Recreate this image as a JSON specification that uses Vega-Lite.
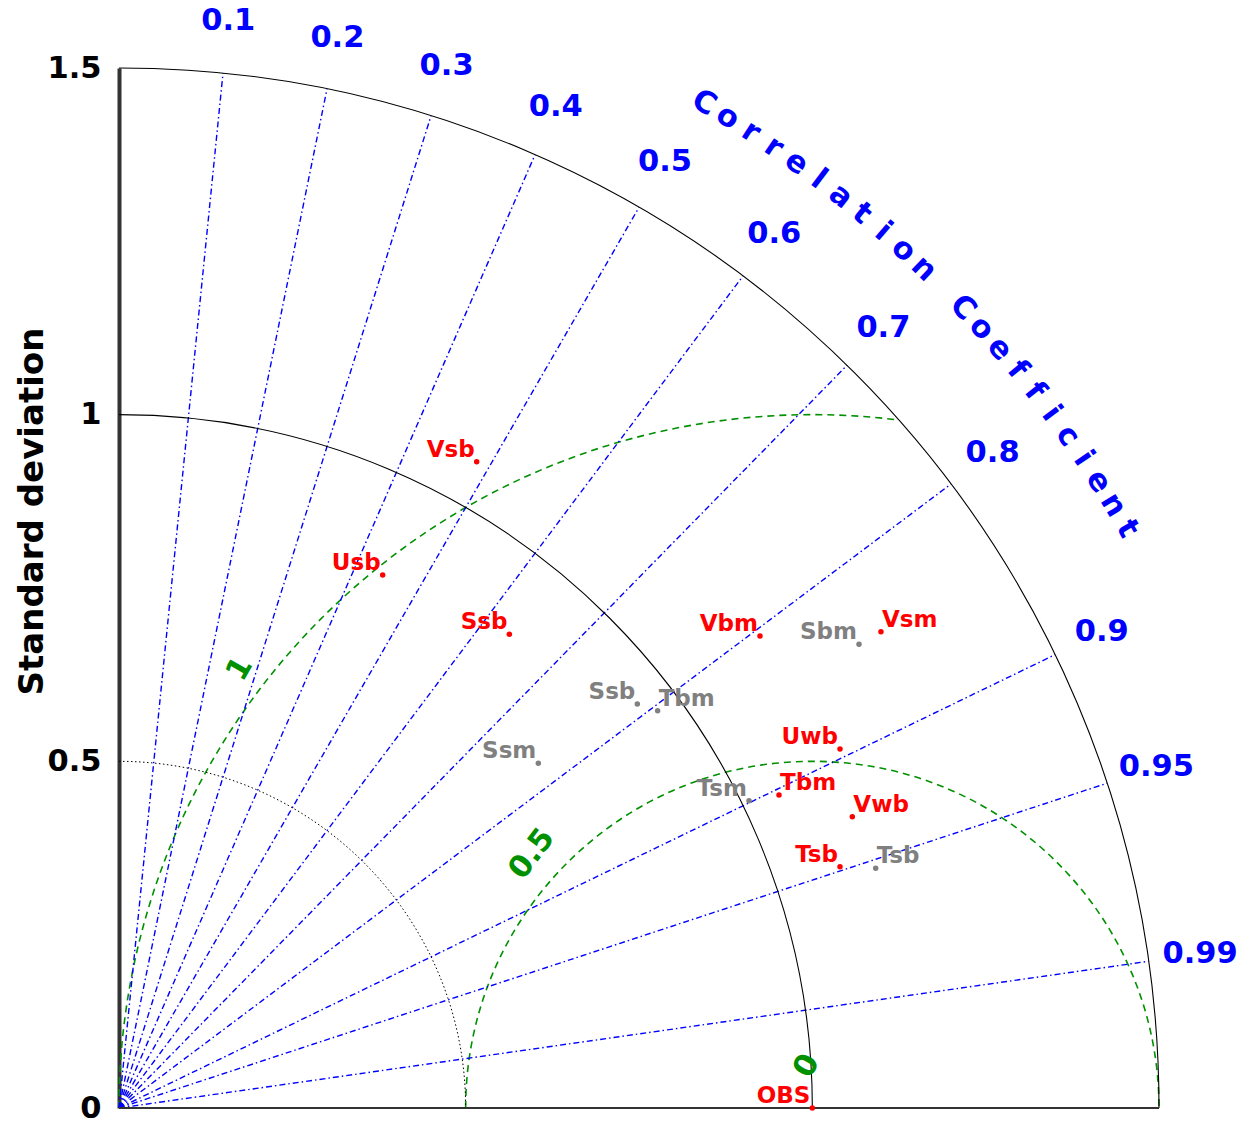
{
  "$schema": "https://vega.github.io/schema/vega-lite/v6.json",
  "width": 1040,
  "height": 1040,
  "autosize": "none",
  "padding": {"left": 119, "top": 68, "right": 91, "bottom": 14},
  "background": "white",
  "datasets": {
    "models": [
      {"name": "Vsb", "series": "A", "x": 0.5159, "y": 0.9322},
      {"name": "Usb", "series": "A", "x": 0.3803, "y": 0.7688},
      {"name": "Ssb", "series": "A", "x": 0.5630, "y": 0.6832},
      {"name": "Vbm", "series": "A", "x": 0.9245, "y": 0.6808},
      {"name": "Vsm", "series": "A", "x": 1.0990, "y": 0.6870},
      {"name": "Uwb", "series": "A", "x": 1.0399, "y": 0.5178},
      {"name": "Tbm", "series": "A", "x": 0.9519, "y": 0.4514},
      {"name": "Vwb", "series": "A", "x": 1.0577, "y": 0.4202},
      {"name": "Tsb", "series": "A", "x": 1.0399, "y": 0.3481},
      {"name": "OBS", "series": "A", "x": 1.0, "y": 0.0},
      {"name": "Sbm", "series": "B", "x": 1.0673, "y": 0.6688},
      {"name": "Ssb", "series": "B", "x": 0.7476, "y": 0.5827},
      {"name": "Tbm", "series": "B", "x": 0.7769, "y": 0.5731},
      {"name": "Ssm", "series": "B", "x": 0.6048, "y": 0.4971},
      {"name": "Tsm", "series": "B", "x": 0.9087, "y": 0.4433},
      {"name": "Tsb", "series": "B", "x": 1.0914, "y": 0.3457}
    ],
    "corr": [
      {"c": "0.1", "x0": 0, "y0": 0, "x1": 0.15, "y1": 1.4925, "lx": 0.1575, "ly": 1.5671},
      {"c": "0.2", "x0": 0, "y0": 0, "x1": 0.3, "y1": 1.4697, "lx": 0.315, "ly": 1.5432},
      {"c": "0.3", "x0": 0, "y0": 0, "x1": 0.45, "y1": 1.4309, "lx": 0.4725, "ly": 1.5025},
      {"c": "0.4", "x0": 0, "y0": 0, "x1": 0.6, "y1": 1.3748, "lx": 0.63, "ly": 1.4435},
      {"c": "0.5", "x0": 0, "y0": 0, "x1": 0.75, "y1": 1.299, "lx": 0.7875, "ly": 1.364},
      {"c": "0.6", "x0": 0, "y0": 0, "x1": 0.9, "y1": 1.2, "lx": 0.945, "ly": 1.26},
      {"c": "0.7", "x0": 0, "y0": 0, "x1": 1.05, "y1": 1.0712, "lx": 1.1025, "ly": 1.1248},
      {"c": "0.8", "x0": 0, "y0": 0, "x1": 1.2, "y1": 0.9, "lx": 1.26, "ly": 0.945},
      {"c": "0.9", "x0": 0, "y0": 0, "x1": 1.35, "y1": 0.6538, "lx": 1.4175, "ly": 0.6865},
      {"c": "0.95", "x0": 0, "y0": 0, "x1": 1.425, "y1": 0.4684, "lx": 1.4963, "ly": 0.4918},
      {"c": "0.99", "x0": 0, "y0": 0, "x1": 1.485, "y1": 0.2116, "lx": 1.5593, "ly": 0.2222}
    ],
    "letters": [
      {"ch": "C", "x": 0.8436, "y": 1.4494, "rot": 30.2},
      {"ch": "o", "x": 0.8777, "y": 1.429, "rot": 31.56},
      {"ch": "r", "x": 0.9114, "y": 1.4077, "rot": 32.92},
      {"ch": "r", "x": 0.9445, "y": 1.3857, "rot": 34.28},
      {"ch": "e", "x": 0.9771, "y": 1.3629, "rot": 35.64},
      {"ch": "l", "x": 1.0093, "y": 1.3393, "rot": 37.0},
      {"ch": "a", "x": 1.0407, "y": 1.3149, "rot": 38.36},
      {"ch": "t", "x": 1.0716, "y": 1.2899, "rot": 39.72},
      {"ch": "i", "x": 1.102, "y": 1.2641, "rot": 41.08},
      {"ch": "o", "x": 1.1316, "y": 1.2375, "rot": 42.44},
      {"ch": "n", "x": 1.1607, "y": 1.2104, "rot": 43.8},
      {"ch": "C", "x": 1.2168, "y": 1.1539, "rot": 46.52},
      {"ch": "o", "x": 1.2439, "y": 1.1247, "rot": 47.88},
      {"ch": "e", "x": 1.2702, "y": 1.0949, "rot": 49.24},
      {"ch": "f", "x": 1.2958, "y": 1.0644, "rot": 50.6},
      {"ch": "f", "x": 1.3208, "y": 1.0334, "rot": 51.96},
      {"ch": "i", "x": 1.3449, "y": 1.0017, "rot": 53.32},
      {"ch": "c", "x": 1.3683, "y": 0.9695, "rot": 54.68},
      {"ch": "i", "x": 1.391, "y": 0.9368, "rot": 56.04},
      {"ch": "e", "x": 1.4127, "y": 0.9035, "rot": 57.4},
      {"ch": "n", "x": 1.4338, "y": 0.8697, "rot": 58.76},
      {"ch": "t", "x": 1.4541, "y": 0.8355, "rot": 60.12}
    ]
  },
  "config": {
    "view": {"stroke": null},
    "axisY": {
      "domainColor": "#333333",
      "domainWidth": 4,
      "ticks": false,
      "grid": false,
      "labelFont": "DejaVu Sans",
      "labelFontSize": 30.5,
      "labelFontWeight": "bold",
      "labelColor": "black",
      "labelPadding": 18,
      "labelFlush": false,
      "labelOverlap": false,
      "titleFont": "DejaVu Sans",
      "titleFontSize": 34,
      "titleFontWeight": "bold",
      "titleColor": "black",
      "titleX": -77,
      "titleY": 443,
      "titleAngle": 270,
      "titleAlign": "center",
      "titleBaseline": "alphabetic"
    },
    "text": {"font": "DejaVu Sans", "fontWeight": "bold"}
  },
  "layer": [
    {
      "data": {"values": [{"cx": 1, "cy": 0, "r": 0.5}]},
      "mark": {"type": "point", "shape": "M-1,0A1,1 0 0 1 1,0", "filled": false, "opacity": 1, "color": "#009000", "strokeWidth": 1.6, "strokeDash": [7, 5]},
      "encoding": {
        "x": {"field": "cx", "type": "quantitative", "scale": {"domain": [0, 1.5], "nice": false, "zero": true}, "axis": null},
        "y": {"field": "cy", "type": "quantitative", "scale": {"domain": [0, 1.5], "nice": false, "zero": true}, "axis": {"values": [0, 0.5, 1, 1.5], "format": "~g"}, "title": "Standard deviation"},
        "size": {"field": "r", "type": "quantitative", "scale": {"type": "pow", "exponent": 2, "domain": [0, 1.5], "range": [0, 4326400], "zero": true, "nice": false}, "legend": null}
      }
    },
    {
      "data": {"values": [{"cx": 1, "cy": 0, "r": 1.0}]},
      "mark": {"type": "point", "shape": "M-1,0A1,1 0 0 1 0.125,-0.9922", "filled": false, "opacity": 1, "color": "#009000", "strokeWidth": 1.6, "strokeDash": [7, 5]},
      "encoding": {
        "x": {"field": "cx", "type": "quantitative", "scale": {"domain": [0, 1.5], "nice": false, "zero": true}, "axis": null},
        "y": {"field": "cy", "type": "quantitative", "scale": {"domain": [0, 1.5], "nice": false, "zero": true}, "axis": {"values": [0, 0.5, 1, 1.5], "format": "~g"}, "title": "Standard deviation"},
        "size": {"field": "r", "type": "quantitative", "scale": {"type": "pow", "exponent": 2, "domain": [0, 1.5], "range": [0, 4326400], "zero": true, "nice": false}, "legend": null}
      }
    },
    {
      "data": {"name": "corr"},
      "mark": {"type": "rule", "stroke": "#0000ff", "strokeWidth": 1.4, "strokeDash": [6, 3, 1.5, 3]},
      "encoding": {
        "x": {"field": "x0", "type": "quantitative", "scale": {"domain": [0, 1.5], "nice": false, "zero": true}, "axis": null},
        "y": {"field": "y0", "type": "quantitative", "scale": {"domain": [0, 1.5], "nice": false, "zero": true}, "axis": {"values": [0, 0.5, 1, 1.5], "format": "~g"}, "title": "Standard deviation"},
        "x2": {"field": "x1"},
        "y2": {"field": "y1"}
      }
    },
    {
      "data": {"values": [{"cx": 0, "cy": 0, "r": 0.5}]},
      "mark": {"type": "point", "shape": "M0,-1A1,1 0 0 1 1,0", "filled": false, "opacity": 1, "color": "black", "strokeWidth": 1, "strokeDash": [1.5, 2.5]},
      "encoding": {
        "x": {"field": "cx", "type": "quantitative", "scale": {"domain": [0, 1.5], "nice": false, "zero": true}, "axis": null},
        "y": {"field": "cy", "type": "quantitative", "scale": {"domain": [0, 1.5], "nice": false, "zero": true}, "axis": {"values": [0, 0.5, 1, 1.5], "format": "~g"}, "title": "Standard deviation"},
        "size": {"field": "r", "type": "quantitative", "scale": {"type": "pow", "exponent": 2, "domain": [0, 1.5], "range": [0, 4326400], "zero": true, "nice": false}, "legend": null}
      }
    },
    {
      "data": {"values": [{"cx": 0, "cy": 0, "r": 1.0}, {"cx": 0, "cy": 0, "r": 1.5}]},
      "mark": {"type": "point", "shape": "M0,-1A1,1 0 0 1 1,0", "filled": false, "opacity": 1, "color": "black", "strokeWidth": 1.1},
      "encoding": {
        "x": {"field": "cx", "type": "quantitative", "scale": {"domain": [0, 1.5], "nice": false, "zero": true}, "axis": null},
        "y": {"field": "cy", "type": "quantitative", "scale": {"domain": [0, 1.5], "nice": false, "zero": true}, "axis": {"values": [0, 0.5, 1, 1.5], "format": "~g"}, "title": "Standard deviation"},
        "size": {"field": "r", "type": "quantitative", "scale": {"type": "pow", "exponent": 2, "domain": [0, 1.5], "range": [0, 4326400], "zero": true, "nice": false}, "legend": null}
      }
    },
    {
      "data": {"values": [{"x0": 0, "x1": 1.5, "y0": 0}]},
      "mark": {"type": "rule", "stroke": "#333333", "strokeWidth": 2.2},
      "encoding": {
        "x": {"field": "x0", "type": "quantitative", "scale": {"domain": [0, 1.5], "nice": false, "zero": true}, "axis": null},
        "x2": {"field": "x1"},
        "y": {"field": "y0", "type": "quantitative", "scale": {"domain": [0, 1.5], "nice": false, "zero": true}, "axis": {"values": [0, 0.5, 1, 1.5], "format": "~g"}, "title": "Standard deviation"}
      }
    },
    {
      "data": {"name": "models"},
      "mark": {"type": "circle", "size": 30, "opacity": 1},
      "encoding": {
        "x": {"field": "x", "type": "quantitative", "scale": {"domain": [0, 1.5], "nice": false, "zero": true}, "axis": null},
        "y": {"field": "y", "type": "quantitative", "scale": {"domain": [0, 1.5], "nice": false, "zero": true}, "axis": {"values": [0, 0.5, 1, 1.5], "format": "~g"}, "title": "Standard deviation"},
        "color": {"field": "series", "type": "nominal", "scale": {"domain": ["A", "B"], "range": ["#ff0000", "#808080"]}, "legend": null}
      }
    },
    {
      "data": {"name": "models"},
      "transform": [{"filter": "!(datum.name === 'Vsm' || datum.name === 'Tbm' || datum.name === 'Vwb' || (datum.name === 'Tsb' && datum.series === 'B'))"}],
      "mark": {"type": "text", "align": "right", "baseline": "alphabetic", "dx": -2, "dy": -5, "fontSize": 23},
      "encoding": {
        "x": {"field": "x", "type": "quantitative", "scale": {"domain": [0, 1.5], "nice": false, "zero": true}, "axis": null},
        "y": {"field": "y", "type": "quantitative", "scale": {"domain": [0, 1.5], "nice": false, "zero": true}, "axis": {"values": [0, 0.5, 1, 1.5], "format": "~g"}, "title": "Standard deviation"},
        "text": {"field": "name"},
        "color": {"field": "series", "type": "nominal", "scale": {"domain": ["A", "B"], "range": ["#ff0000", "#808080"]}, "legend": null}
      }
    },
    {
      "data": {"name": "models"},
      "transform": [{"filter": "datum.name === 'Vsm' || datum.name === 'Tbm' || datum.name === 'Vwb' || (datum.name === 'Tsb' && datum.series === 'B')"}],
      "mark": {"type": "text", "align": "left", "baseline": "alphabetic", "dx": 1, "dy": -5, "fontSize": 23},
      "encoding": {
        "x": {"field": "x", "type": "quantitative", "scale": {"domain": [0, 1.5], "nice": false, "zero": true}, "axis": null},
        "y": {"field": "y", "type": "quantitative", "scale": {"domain": [0, 1.5], "nice": false, "zero": true}, "axis": {"values": [0, 0.5, 1, 1.5], "format": "~g"}, "title": "Standard deviation"},
        "text": {"field": "name"},
        "color": {"field": "series", "type": "nominal", "scale": {"domain": ["A", "B"], "range": ["#ff0000", "#808080"]}, "legend": null}
      }
    },
    {
      "data": {"name": "corr"},
      "mark": {"type": "text", "align": "center", "baseline": "middle", "fontSize": 30.5, "color": "#0000ff"},
      "encoding": {
        "x": {"field": "lx", "type": "quantitative", "scale": {"domain": [0, 1.5], "nice": false, "zero": true}, "axis": null},
        "y": {"field": "ly", "type": "quantitative", "scale": {"domain": [0, 1.5], "nice": false, "zero": true}, "axis": {"values": [0, 0.5, 1, 1.5], "format": "~g"}, "title": "Standard deviation"},
        "text": {"field": "c"}
      }
    },
    {
      "data": {"name": "letters"},
      "mark": {"type": "text", "align": "center", "baseline": "middle", "fontSize": 30.5, "color": "#0000ff"},
      "encoding": {
        "x": {"field": "x", "type": "quantitative", "scale": {"domain": [0, 1.5], "nice": false, "zero": true}, "axis": null},
        "y": {"field": "y", "type": "quantitative", "scale": {"domain": [0, 1.5], "nice": false, "zero": true}, "axis": {"values": [0, 0.5, 1, 1.5], "format": "~g"}, "title": "Standard deviation"},
        "text": {"field": "ch"},
        "angle": {"field": "rot", "type": "quantitative", "scale": null}
      }
    },
    {
      "data": {"values": [
        {"lab": "1", "x": 0.1745, "y": 0.6332, "rot": -60},
        {"lab": "0.5", "x": 0.5957, "y": 0.3663, "rot": -53},
        {"lab": "0", "x": 0.9923, "y": 0.0606, "rot": -62}
      ]},
      "mark": {"type": "text", "align": "center", "baseline": "middle", "fontSize": 30.5, "color": "#009000"},
      "encoding": {
        "x": {"field": "x", "type": "quantitative", "scale": {"domain": [0, 1.5], "nice": false, "zero": true}, "axis": null},
        "y": {"field": "y", "type": "quantitative", "scale": {"domain": [0, 1.5], "nice": false, "zero": true}, "axis": {"values": [0, 0.5, 1, 1.5], "format": "~g"}, "title": "Standard deviation"},
        "text": {"field": "lab"},
        "angle": {"field": "rot", "type": "quantitative", "scale": null}
      }
    }
  ]
}
